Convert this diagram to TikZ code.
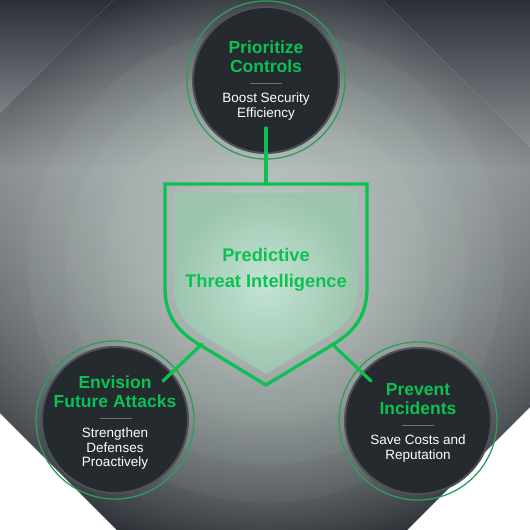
\documentclass[tikz,border=0pt]{standalone}
\usepackage{fontspec}
\setmainfont{Liberation Sans}
\usetikzlibrary{fadings}

\definecolor{ink}{HTML}{2B3038}
\definecolor{mist}{HTML}{868B8F}
\definecolor{dusk}{HTML}{2F3339}
\definecolor{haze}{HTML}{C6D0CB}
\definecolor{ashleft}{HTML}{7C8186}
\definecolor{ashright}{HTML}{8A8E92}
\definecolor{brand}{HTML}{0BC152}
\definecolor{ringgreen}{HTML}{2E9E5A}
\definecolor{disc}{HTML}{252A2F}
\definecolor{rim}{HTML}{4C5157}
\definecolor{mintlight}{HTML}{C4E4D4}
\definecolor{mintdark}{HTML}{9CC4AE}
\definecolor{rule}{HTML}{6E7379}

\tikzfading[name=glowfade, inner color=transparent!0, outer color=transparent!100]

\begin{document}
\begin{tikzpicture}[x=1pt, y=-1pt,
  bubble/.style={circle, minimum size=146pt, inner sep=0pt, fill=disc, draw=rim, line width=2pt},
  halo/.style={draw=ringgreen, line width=1.3pt},
  headline/.style={text=brand, font=\fontsize{17.5}{19}\selectfont\bfseries, align=center},
  blurb/.style={text=white, font=\fontsize{13.5}{14.5}\selectfont, align=center},
  core/.style={text=brand, font=\fontsize{18.3}{26}\selectfont\bfseries, align=center},
  link/.style={draw=brand, line width=3.3pt, line cap=round},
  divider/.style={draw=rule, line width=0.8pt}]

\useasboundingbox (0,0) rectangle (530,530);
\fill [white] (0,0) rectangle (530,530);
\shade [top color=ink, bottom color=ashleft] (0,0) -- (113,0) -- (0,113) -- cycle;
\shade [top color=ink, bottom color=ashright] (383,0) -- (530,0) -- (530,147) -- cycle;

\begin{scope}
\clip (248,-135) -- (660,277) -- (262,675) -- (-150,263) -- cycle;
\shade [top color=ink, bottom color=mist] (0,0) rectangle (530,170.5);
\shade [top color=mist, bottom color=dusk] (0,170) rectangle (530,530);
\fill [haze, path fading=glowfade] (266,265) circle [radius=300];
\foreach \r in {238,200,162}
  \fill [haze, fill opacity=0.06] (266,265) circle [radius=\r];
\end{scope}

\shade [inner color=mintlight, outer color=mintdark]
  (174,193) -- (358,193) -- (358,287) .. controls (358,313) and (345,326) .. (327,337)
  -- (266,374) -- (205,337) .. controls (187,326) and (174,313) .. (174,287) -- cycle;
\draw [brand, line width=3.3pt, line join=miter]
  (165,184) -- (367,184) -- (367,288) .. controls (367,318) and (352,333) .. (332,345)
  -- (266,385) -- (200,345) .. controls (180,333) and (165,318) .. (165,288) -- cycle;
\coordinate (shield-top) at (266,184);
\coordinate (shield-left) at (202,344);
\coordinate (shield-right) at (332,344);
\node [core] (threat) at (266,270) {Predictive\\Threat Intelligence};

\node [bubble] (prio) at (266,80) {};
\node [bubble] (envision) at (115,420) {};
\node [bubble] (prevent) at (418,421) {};
\draw [halo] (prio.center) circle [radius=79];
\draw [halo] (envision.center) circle [radius=79];
\draw [halo] (prevent.center) circle [radius=79];

\coordinate (prio-port) at (266,128);
\coordinate (envision-port) at (163,381);
\coordinate (prevent-port) at (371,381);
\draw [link] (prio-port) -- (shield-top);
\draw [link] (envision-port) -- (shield-left);
\draw [link] (prevent-port) -- (shield-right);

\node [headline] (prio-title) at (266,56.5) {Prioritize\\Controls};
\draw [divider] (250,83.5) -- (282,83.5);
\node [blurb] (prio-text) at (266,106.5) {Boost Security\\Efficiency};

\node [headline] (envision-title) at (115,392) {Envision\\Future Attacks};
\draw [divider] (100,418.5) -- (132,418.5);
\node [blurb] (envision-text) at (115,448.7) {Strengthen\\Defenses\\Proactively};

\node [headline] (prevent-title) at (418,399) {Prevent\\Incidents};
\draw [divider] (402,425) -- (434,425);
\node [blurb] (prevent-text) at (418,448.5) {Save Costs and\\Reputation};
\end{tikzpicture}
\end{document}
